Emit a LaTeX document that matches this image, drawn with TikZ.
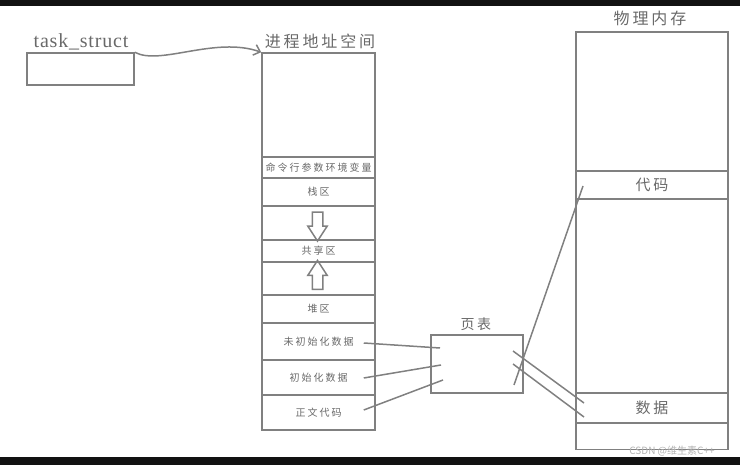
\documentclass[tikz,border=0pt]{standalone}
\usepackage{fontspec}
\setmainfont{Liberation Serif}
\newfontfamily\cjk{Noto Sans CJK SC}
\newfontfamily\cjkrow[LetterSpace=20]{Noto Sans CJK SC}
\newfontfamily\cjkwide[LetterSpace=18]{Noto Sans CJK SC}
\newfontfamily\latinwide[LetterSpace=4]{Liberation Serif}
\usepackage{xcolor}
\usetikzlibrary{shapes,shapes.arrows,arrows,arrows.meta,positioning}

\definecolor{linegray}{RGB}{128,128,128}
\definecolor{textgray}{RGB}{105,105,105}

\tikzset{
    box/.style={rectangle, draw=linegray, line width=1.5pt, inner sep=0pt, text=textgray},
    row/.style={box, minimum width=113, font=\cjkrow\fontsize{10}{10}\selectfont},
    title/.style={text=textgray, inner sep=0pt, font=\cjkwide\fontsize{16}{16}\selectfont},
    link/.style={draw=linegray, line width=1.5pt},
    hollow/.style={single arrow, draw=linegray, line width=1.5pt, minimum width=18, minimum height=29,
        inner sep=4.5, single arrow head extend=4.5, single arrow tip angle=66}
}

\begin{document}
\begin{tikzpicture}[x=1pt, y=-1pt]
    \useasboundingbox (0,0) rectangle (740,465);
    \fill[black!93] (0,0) rectangle (740,6);
    \fill[black!93] (0,457) rectangle (740,465);

    % task_struct
    \node [box, minimum width=107, minimum height=32] (task) at (80.5,69) {};
    \node [text=textgray, anchor=south, inner sep=0pt, font=\latinwide\fontsize{20}{20}\selectfont] (tasklbl) at (81,50) {task\_struct};

    % process address space
    \node [row, minimum height=104] (top) at (318.5,105) {};
    \node [row, minimum height=21] (argv) at (318.5,167.5) {命令行参数环境变量};
    \node [row, minimum height=28] (stack) at (318.5,192) {栈区};
    \node [row, minimum height=34] (gapa) at (318.5,223) {};
    \node [row, minimum height=22] (shared) at (318.5,251) {共享区};
    \node [row, minimum height=33] (gapb) at (318.5,278.5) {};
    \node [row, minimum height=28] (heap) at (318.5,309) {堆区};
    \node [row, minimum height=37] (bss) at (318.5,341.5) {未初始化数据};
    \node [row, minimum height=35] (data) at (318.5,377.5) {初始化数据};
    \node [row, minimum height=35] (code) at (318.5,412.5) {正文代码};
    \node [title, anchor=south] (addrlbl) at (320,49) {进程地址空间};

    \node [hollow, shape border rotate=270] (down) at (317.5,222.5) {};
    \node [hollow, shape border rotate=90] (up) at (317.5,279) {};

    % page table
    \node [box, minimum width=92, minimum height=58] (pt) at (477,364) {};
    \node [title, anchor=south, font=\cjkwide\fontsize{14}{14}\selectfont] (ptlbl) at (476,331) {页表};

    % physical memory
    \node [box, minimum width=152, minimum height=139] (pmtop) at (652,101.5) {};
    \node [box, minimum width=152, minimum height=28, font=\cjkwide\fontsize{15}{15}\selectfont] (pmcode) at (652,185) {代码};
    \node [box, minimum width=152, minimum height=194] (pmmid) at (652,296) {};
    \node [box, minimum width=152, minimum height=30, font=\cjkwide\fontsize{15}{15}\selectfont] (pmdata) at (652,408) {数据};
    \node [box, minimum width=152, minimum height=26] (pmbot) at (652,436.5) {};
    \node [title, anchor=south] (pmlbl) at (650,26) {物理内存};

    % free ends inside the page table and memory
    \coordinate (pa) at (440,348);
    \coordinate (pb) at (441,365);
    \coordinate (pc) at (443,380);
    \coordinate (qa) at (514,385);
    \coordinate (qb) at (513,351);
    \coordinate (qc) at (513,364);
    \coordinate (ma) at (583,186);
    \coordinate (mb) at (584,403);
    \coordinate (mc) at (584,417);

    \draw [-{Straight Barb[length=6pt,width=11pt]}, link] (task.north east) .. controls (160,66) and (215,36) .. (top.north west);
    \draw [link] ([xshift=-12pt,yshift=-1.5pt]bss.east) -- (pa);
    \draw [link] ([xshift=-12pt,yshift=-0.5pt]data.east) -- (pb);
    \draw [link] ([xshift=-12pt,yshift=2.5pt]code.east) -- (pc);
    \draw [link] (qa) -- (ma);
    \draw [link] (qb) -- (mb);
    \draw [link] (qc) -- (mc);

    \node [text=black!30, font=\cjk\fontsize{10}{10}\selectfont, inner sep=0pt] (mark) at (672,451) {CSDN @维生素C++};
\end{tikzpicture}
\end{document}
